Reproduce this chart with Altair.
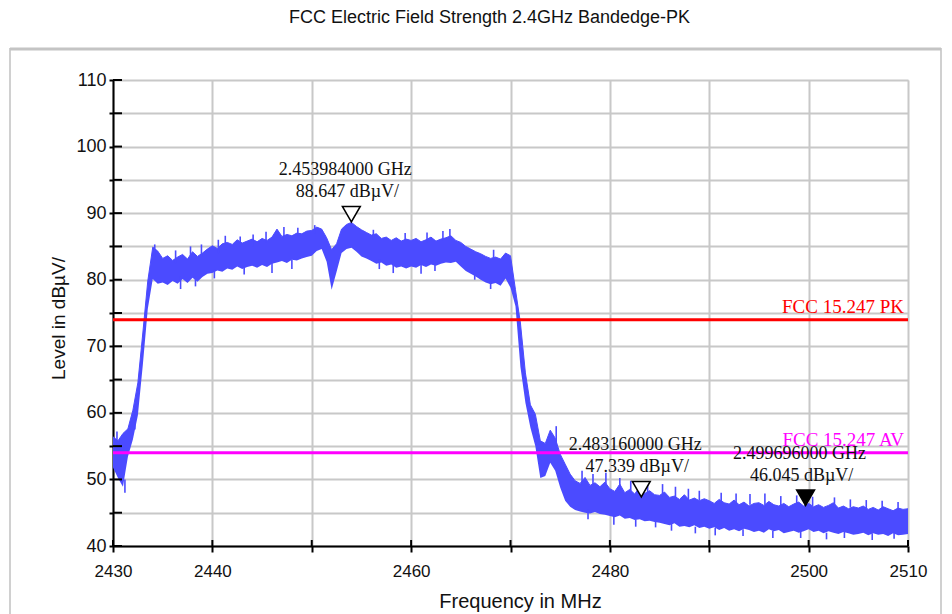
import altair as alt
import pandas as pd

# ---------------- data ----------------
TITLE = "FCC Electric Field Strength 2.4GHz Bandedge-PK"
X_TITLE = "Frequency in MHz"
Y_TITLE = "Level in dBµV/"

FREQ_START = 2430.0   # MHz, sweep start
FREQ_STEP = 0.5       # MHz, sweep step of the read-off envelope

# upper envelope of the trace (dBµV/)
level_hi = [
    56.4, 55.8, 56.9, 57.6, 60.4, 64.5, 72.0, 79.8, 84.9, 84.3,
    83.2, 83.6, 82.9, 83.4, 83.8, 83.1, 84.2, 83.5, 84.0, 84.6,
    85.1, 84.7, 85.4, 85.6, 85.3, 86.0, 85.5, 85.8, 86.1, 85.7,
    86.2, 85.9, 86.4, 87.6, 86.5, 86.8, 86.6, 87.0, 86.9, 87.3,
    87.4, 87.9, 87.6, 86.3, 84.5, 85.4, 87.6, 88.3, 88.6, 88.0,
    87.5, 87.1, 86.7, 86.9, 86.2, 86.4, 85.9, 86.3, 85.8, 86.1,
    85.9, 86.2, 85.7, 86.0, 86.4, 85.8, 86.1, 86.3, 86.6, 85.9,
    85.6, 85.0, 84.6, 84.2, 83.9, 83.5, 83.2, 83.4, 83.1, 84.0,
    83.6, 78.5, 73.5, 66.0, 61.2, 59.8, 55.8, 55.4, 57.4, 56.2,
    53.8, 52.3, 50.8, 49.8, 49.4, 50.3, 49.1, 49.5, 48.9, 49.6,
    48.6, 48.2, 49.3, 48.0, 48.5, 47.8, 48.9, 47.9, 48.3, 47.7,
    47.6, 48.1, 47.3, 47.5, 47.0, 47.7, 46.9, 47.2, 46.8, 47.1,
    46.8, 46.4, 47.0, 46.5, 46.3, 46.9, 46.2, 46.6, 46.0, 46.4,
    46.5, 46.1, 46.7, 46.2, 46.0, 46.4, 45.9, 46.3, 46.6, 46.0,
    46.4, 45.9, 46.2, 45.8, 46.1, 46.5, 45.7, 46.0, 45.6, 45.9,
    45.7, 46.0, 45.5, 45.8, 45.4, 45.9, 45.6, 45.3, 45.7, 45.5, 45.6,
]
# lower envelope of the trace (dBµV/)
level_lo = [
    51.8, 50.2, 48.9, 53.4, 56.0, 59.6, 67.2, 75.6, 80.1, 79.4,
    79.6, 79.2, 79.8, 79.4, 80.1, 79.5, 80.3, 79.7, 80.4, 80.9,
    81.0, 81.4, 81.2, 81.7, 81.5, 82.0, 81.6, 81.9, 82.1, 81.8,
    82.2, 81.9, 82.4, 82.6, 82.8, 82.5, 83.0, 82.9, 83.2, 83.4,
    83.6, 84.3, 84.6, 82.7, 78.5, 81.2, 84.0, 84.6, 84.8, 84.2,
    83.5, 83.2, 82.8, 82.4, 82.6, 82.1, 82.3, 81.8, 82.0, 81.7,
    82.0, 81.8, 82.2, 81.9, 82.3, 82.1, 82.4, 82.6, 82.5, 82.7,
    82.0, 81.3, 80.9, 80.5, 80.0, 79.6, 79.3, 79.5, 79.1, 80.2,
    78.8, 76.0, 66.9, 61.5, 57.8, 55.0, 50.2, 50.5, 52.5, 51.3,
    48.8, 46.8, 45.9, 45.4, 45.2, 45.0, 44.9, 45.1, 44.8, 44.7,
    44.5, 44.3, 44.6, 44.1, 44.2, 43.9, 44.0, 43.7, 43.8, 43.6,
    43.5, 43.3, 43.1, 43.4, 42.9, 43.0, 42.8, 43.1, 42.7, 42.9,
    42.6, 42.8, 42.4, 42.7, 42.3, 42.5, 42.2, 42.6, 42.4, 42.1,
    42.3, 42.0, 42.5, 42.2, 42.4, 41.9, 42.1, 42.3, 42.0, 42.2,
    42.5, 42.1, 42.3, 41.9, 42.2, 42.0, 41.8, 42.1, 41.9, 41.7,
    41.8, 42.0, 41.6, 41.9, 41.7, 41.8, 41.5, 41.9, 41.6, 41.7, 41.8,
]
freq = [FREQ_START + FREQ_STEP * i for i in range(len(level_hi))]

# individual noise spikes that stick out of the envelope (MHz, from, to dBµV/)
spike_freq = [
    2430.4, 2431.2, 2432.2, 2434.2, 2436.3, 2437.8, 2438.9, 2440.6, 2441.3,
    2442.8, 2444.1, 2445.4, 2447.2, 2448.6, 2450.3, 2456.2, 2459.4, 2461.6,
    2463.2, 2463.9, 2468.3, 2436.8, 2438.3, 2440.2, 2443.2, 2446.0, 2448.0,
    2456.8, 2458.2, 2461.0, 2462.4, 2466.4, 2468.0, 2474.6,
    2477.2, 2478.3, 2479.6, 2481.0, 2482.1, 2483.8, 2485.3, 2486.6, 2487.9,
    2489.0, 2491.2, 2492.7, 2494.1, 2495.6, 2497.2, 2498.8, 2500.4, 2502.6,
    2504.2, 2505.8, 2507.4, 2509.0,
    2477.8, 2480.4, 2482.6, 2484.6, 2486.2, 2488.6, 2490.6, 2493.4, 2496.4,
    2499.2, 2501.8, 2503.6, 2506.4, 2508.6,
]
spike_from = [
    55.0, 48.0, 57.5, 83.5, 82.5, 83.0, 83.5, 84.0, 84.5,
    85.0, 85.0, 85.5, 86.0, 86.5, 87.0, 86.0, 85.5, 85.5,
    85.8, 86.0, 83.0, 78.6, 79.0, 80.2, 80.8, 81.0, 81.6,
    81.6, 81.0, 80.9, 81.3, 80.0, 78.6, 55.0,
    49.0, 49.0, 49.0, 48.0, 48.0, 47.5, 47.5, 47.0, 46.8,
    46.8, 46.5, 46.3, 46.2, 46.2, 46.0, 46.2, 46.0, 45.8,
    45.8, 45.6, 45.5, 45.5,
    44.0, 43.2, 42.9, 42.8, 42.3, 41.9, 41.6, 41.5, 41.2,
    41.2, 41.0, 41.2, 40.9, 41.1,
]
spike_to = [
    57.2, 50.0, 61.0, 85.3, 84.4, 85.0, 85.3, 86.0, 86.6,
    86.5, 86.8, 87.2, 87.9, 87.8, 88.2, 87.5, 87.0, 87.1,
    87.3, 87.6, 84.5, 80.5, 80.5, 81.5, 82.0, 82.5, 83.0,
    83.0, 82.3, 82.3, 82.4, 81.2, 79.8, 58.0,
    51.3, 50.8, 51.0, 50.2, 49.8, 49.6, 49.3, 48.9, 48.6,
    48.3, 48.0, 47.9, 47.8, 47.9, 47.5, 47.6, 47.4, 47.3,
    47.0, 46.9, 46.8, 46.6,
    45.5, 44.5, 44.0, 43.8, 43.4, 42.9, 42.7, 42.5, 42.3,
    42.2, 42.0, 42.1, 41.9, 42.0,
]

limit_names = ["FCC 15.247 PK", "FCC 15.247 AV"]
limit_levels = [74.0, 54.0]
limit_colors = ["#FF0000", "#FF00FF"]

marker_freq_mhz = [2453.984, 2483.160, 2499.696]
marker_level = [88.647, 47.339, 46.045]
marker_fill = ["white", "white", "black"]

x_domain = [2430, 2510]
y_domain = [40, 110]
x_ticks = [2430, 2440, 2450, 2460, 2470, 2480, 2490, 2500, 2510]
x_tick_labels = [2430, 2440, 2460, 2480, 2500, 2510]
y_ticks = [40, 45, 50, 55, 60, 65, 70, 75, 80, 85, 90, 95, 100, 105, 110]
y_tick_labels = [40, 50, 60, 70, 80, 90, 100, 110]

# ---------------- tables ----------------
trace_df = pd.DataFrame({"freq": freq, "level": level_hi, "level_lo": level_lo})
spike_df = pd.DataFrame({"freq": spike_freq, "level": spike_from, "level_to": spike_to})
limit_df = pd.DataFrame({
    "name": limit_names, "level": limit_levels, "color": limit_colors,
    "freq": [x_domain[0]] * 2, "freq_end": [x_domain[1]] * 2,
})
marker_df = pd.DataFrame({
    "freq": marker_freq_mhz, "level": marker_level, "fill": marker_fill,
    "line1": [f"{f / 1000:.9f} GHz" for f in marker_freq_mhz],
    "line2": [f"{v:.3f} dBµV/" for v in marker_level],
})
ytick_df = pd.DataFrame({"level": y_ticks})
xtick_df = pd.DataFrame({"freq": x_ticks})
one_df = pd.DataFrame({"a": [0]})

W, H = 795, 466
SANS = "Liberation Sans, Arial, sans-serif"
SERIF = "Liberation Serif, Times New Roman, serif"
TXT = "#111111"
BLUE = "#4B4BFF"

x_axis = alt.Axis(
    values=x_ticks, format="d",
    labelExpr=f"indexof({x_tick_labels}, datum.value) >= 0 ? datum.label : ''",
    grid=True, gridColor="#C8C8C8", gridWidth=2,
    domainColor="black", domainWidth=2,
    tickColor="black", tickWidth=2, tickSize=6,
    labelFont=SANS, labelFontSize=17, labelColor=TXT, labelPadding=11,
    labelFlush=False, labelOverlap=False,
    titleFont=SANS, titleFontSize=20, titleFontWeight="normal", titleColor=TXT,
    titleX=407, titleY=55, titleAlign="center", titleBaseline="middle",
)
y_axis = alt.Axis(
    values=y_ticks,
    labelExpr=f"indexof({y_tick_labels}, datum.value) >= 0 ? datum.label : ''",
    grid=True, gridColor="#C8C8C8", gridWidth=2,
    domainColor="black", domainWidth=2,
    tickColor="black", tickWidth=2, tickSize=4,
    labelFont=SANS, labelFontSize=18, labelColor=TXT, labelPadding=3,
    labelFlush=False, labelOverlap=False,
    titleFont=SANS, titleFontSize=19, titleFontWeight="normal", titleColor=TXT,
    titleX=-55, titleY=238, titleAngle=270, titleAlign="center", titleBaseline="middle",
)
xs = alt.Scale(domain=x_domain, nice=False, zero=False)
ys = alt.Scale(domain=y_domain, nice=False, zero=False)
X = alt.X("freq:Q", scale=xs, axis=x_axis, title=X_TITLE)
Y = alt.Y("level:Q", scale=ys, axis=y_axis, title=Y_TITLE)

# panel frame (decoration around the whole figure)
frame = alt.Chart(one_df).mark_rect(
    fill=None, stroke="#D0D0D0", strokeWidth=2, clip=False
).encode(x=alt.value(-103), x2=alt.value(828), y=alt.value(-31), y2=alt.value(560))
frame_top = alt.Chart(one_df).mark_rule(
    stroke="#C4C4C4", strokeWidth=3, clip=False
).encode(x=alt.value(-103), x2=alt.value(828), y=alt.value(-31))

trace = alt.Chart(trace_df).mark_area(
    color=BLUE, opacity=1, clip=True, line={"color": BLUE, "strokeWidth": 1}
).encode(x=X, y=Y, y2="level_lo:Q")
spikes = alt.Chart(spike_df).mark_rule(color=BLUE, strokeWidth=1.6, clip=True).encode(
    x=X, y=Y, y2="level_to:Q"
)

limits = alt.Chart(limit_df).mark_rule(strokeWidth=3).encode(
    x=X, x2="freq_end:Q", y=Y, color=alt.Color("color:N", scale=None)
)
limit_text = alt.Chart(limit_df).mark_text(
    align="right", baseline="bottom", dx=-4, dy=-3, font=SERIF, fontSize=19
).encode(
    x=alt.X("freq_end:Q", scale=xs, axis=x_axis, title=X_TITLE), y=Y,
    text="name:N", color=alt.Color("color:N", scale=None),
)

tri = alt.Chart(marker_df).mark_point(
    shape="triangle-down", size=320, filled=True, stroke="black", strokeWidth=1.5,
    opacity=1, yOffset=-8
).encode(x=X, y=Y, fill=alt.Fill("fill:N", scale=None))
txt1 = alt.Chart(marker_df).mark_text(
    dx=-6, dy=-52, font=SERIF, fontSize=18, color=TXT, align="center", baseline="middle"
).encode(x=X, y=Y, text="line1:N")
txt2 = alt.Chart(marker_df).mark_text(
    dx=-4, dy=-30, font=SERIF, fontSize=18, color=TXT, align="center", baseline="middle"
).encode(x=X, y=Y, text="line2:N")

# inner half of the tick marks (ticks cross the axis lines)
ytick_in = alt.Chart(ytick_df).mark_rule(color="black", strokeWidth=2).encode(
    y=Y, x=alt.value(0), x2=alt.value(9)
)
xtick_in = alt.Chart(xtick_df).mark_rule(color="black", strokeWidth=2).encode(
    x=X, y=alt.value(H - 6), y2=alt.value(H)
)

chart = alt.layer(
    frame, frame_top, trace, spikes, limits, limit_text, tri, txt1, txt2, ytick_in, xtick_in
).properties(
    width=W, height=H,
    autosize=alt.AutoSizeParams(type="none"),
    padding={"left": 105, "top": 72, "right": 36, "bottom": 68},
    title=alt.TitleParams(
        TITLE, font=SANS, fontSize=18, fontWeight="normal", color=TXT,
        anchor="middle", frame="group", dx=-21, dy=18, offset=21, baseline="bottom",
    ),
).configure_view(stroke=None).configure(background="white")

chart.save("out.html", embed_options={"renderer": "svg", "actions": False})
